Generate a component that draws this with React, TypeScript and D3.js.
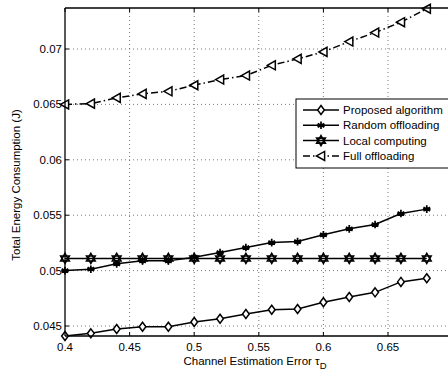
import React from "react";
import * as d3 from "d3";

const xs = [0.4, 0.42, 0.44, 0.46, 0.48, 0.5, 0.52, 0.54, 0.56, 0.58, 0.6, 0.62, 0.64, 0.66, 0.68];
const proposed = [0.0441, 0.04434, 0.04473, 0.04494, 0.04494, 0.04536, 0.04566, 0.04609, 0.04647, 0.04654, 0.04714, 0.04762, 0.04804, 0.04898, 0.04931];
const randomOff = [0.05, 0.05013, 0.05061, 0.05088, 0.05088, 0.05121, 0.05163, 0.05208, 0.05253, 0.05262, 0.05323, 0.05377, 0.05416, 0.05515, 0.05555];
const local = [0.0511, 0.0511, 0.0511, 0.0511, 0.0511, 0.0511, 0.0511, 0.0511, 0.0511, 0.0511, 0.0511, 0.0511, 0.0511, 0.0511, 0.0511];
const fullOff = [0.065, 0.06507, 0.06559, 0.06595, 0.06618, 0.06673, 0.06724, 0.0676, 0.06853, 0.06911, 0.06974, 0.07067, 0.07148, 0.07242, 0.07363];
const xTicks = [0.4, 0.45, 0.5, 0.55, 0.6, 0.65];
const yTicks = [0.045, 0.05, 0.055, 0.06, 0.065, 0.07];
const legendLabels = ["Proposed algorithm", "Random offloading", "Local computing", "Full offloading"];

const FONT = "Liberation Sans, Arial, Helvetica, sans-serif";

function Marker({ type, x, y }: { type: string; x: number; y: number }) {
  if (type === "diamond") {
    const r = 4.5;
    return <path d={`M${x},${y - r}L${x + r * 0.75},${y}L${x},${y + r}L${x - r * 0.75},${y}Z`} fill="white" stroke="black" strokeWidth={1.5} />;
  }
  if (type === "asterisk") {
    const r = 3.8;
    const segs = [0, 60, 120].map((a) => {
      const t = (a * Math.PI) / 180;
      return `M${x - r * Math.sin(t)},${y - r * Math.cos(t)}L${x + r * Math.sin(t)},${y + r * Math.cos(t)}`;
    });
    return <path d={segs.join("") + `M${x - r},${y}L${x + r},${y}`} stroke="black" strokeWidth={1.7} fill="none" />;
  }
  if (type === "hexagram") {
    const r = 5;
    const tri = (rot: number) =>
      [0, 1, 2]
        .map((i) => {
          const t = rot + (i * 2 * Math.PI) / 3;
          return `${x + r * Math.sin(t)},${y - r * Math.cos(t)}`;
        })
        .join("L");
    return (
      <g fill="none" stroke="black" strokeWidth={1.6}>
        <path d={`M${tri(0)}Z`} />
        <path d={`M${tri(Math.PI)}Z`} />
      </g>
    );
  }
  // left-pointing triangle
  const r = 4.5;
  return <path d={`M${x - r},${y}L${x + r * 0.8},${y - r}L${x + r * 0.8},${y + r}Z`} fill="white" stroke="black" strokeWidth={1.5} />;
}

export default function App() {
  const W = 448, H = 370;
  const x = d3.scaleLinear().domain([0.4, 0.7]).range([65, 452.6]);
  const y = d3.scaleLinear().domain([0.0441, 0.0737]).range([336, 8]);
  const line = d3.line<[number, number]>().x((d) => x(d[0])).y((d) => y(d[1]));
  const series = [
    { vals: proposed, marker: "diamond", dash: "" },
    { vals: randomOff, marker: "asterisk", dash: "" },
    { vals: local, marker: "hexagram", dash: "" },
    { vals: fullOff, marker: "triangle", dash: "7,3,1.5,3" },
  ];
  const left = 65, right = 452.6, top = 8, bottom = 336;
  const lx = 296, ly = 99;
  return (
    <svg width={W} height={H} style={{ position: "absolute", left: 0, top: 0, background: "white" }} fontFamily={FONT}>
      <rect x={0} y={0} width={W} height={H} fill="white" />
      {/* grid */}
      {xTicks.slice(1).map((t) => (
        <line key={"gx" + t} x1={x(t)} x2={x(t)} y1={top} y2={bottom} stroke="#555" strokeWidth={0.8} strokeDasharray="1,3" />
      ))}
      {yTicks.map((t) => (
        <line key={"gy" + t} x1={left} x2={right} y1={y(t)} y2={y(t)} stroke="#555" strokeWidth={0.8} strokeDasharray="1,3" />
      ))}
      {/* ticks */}
      {xTicks.map((t) => (
        <g key={"tx" + t}>
          <line x1={x(t)} x2={x(t)} y1={bottom} y2={bottom - 4} stroke="black" />
          <line x1={x(t)} x2={x(t)} y1={top} y2={top + 4} stroke="black" />
          <text x={x(t)} y={351} fontSize={11.5} textAnchor="middle">{String(t)}</text>
        </g>
      ))}
      {yTicks.map((t) => (
        <g key={"ty" + t}>
          <line x1={left} x2={left + 4} y1={y(t)} y2={y(t)} stroke="black" />
          <text x={62} y={y(t) + 4} fontSize={11.5} textAnchor="end">{String(t)}</text>
        </g>
      ))}
      {/* series */}
      {series.map((s, i) => {
        const pts: [number, number][] = xs.map((xv, j) => [xv, s.vals[j]]);
        return (
          <g key={i}>
            <path d={line(pts) || ""} fill="none" stroke="black" strokeWidth={1.5} strokeDasharray={s.dash || undefined} />
            {pts.map((p, j) => (
              <Marker key={j} type={s.marker} x={x(p[0])} y={y(p[1])} />
            ))}
          </g>
        );
      })}
      {/* axes box */}
      <line x1={left} x2={right} y1={top} y2={top} stroke="black" strokeWidth={1.3} />
      <line x1={left} x2={right} y1={bottom} y2={bottom} stroke="black" strokeWidth={1.3} />
      <line x1={left} x2={left} y1={top} y2={bottom} stroke="black" strokeWidth={1.3} />
      {/* legend */}
      <rect x={lx} y={ly} width={170} height={69} fill="white" stroke="black" strokeWidth={1} />
      {legendLabels.map((lab, i) => {
        const yy = 110 + i * 15.3;
        return (
          <g key={lab}>
            <line x1={303} x2={339} y1={yy} y2={yy} stroke="black" strokeWidth={1.5} strokeDasharray={series[i].dash || undefined} />
            <Marker type={series[i].marker} x={321} y={yy} />
            <text x={343} y={yy + 4} fontSize={11.5}>{lab}</text>
          </g>
        );
      })}
      {/* axis labels */}
      <text x={255} y={365} fontSize={11.5} textAnchor="middle">
        Channel Estimation Error τ<tspan fontSize={9.5} dy={4}>D</tspan>
      </text>
      <text transform="translate(20,185) rotate(-90)" fontSize={11.5} textAnchor="middle">Total Energy Consumption (J)</text>
    </svg>
  );
}
